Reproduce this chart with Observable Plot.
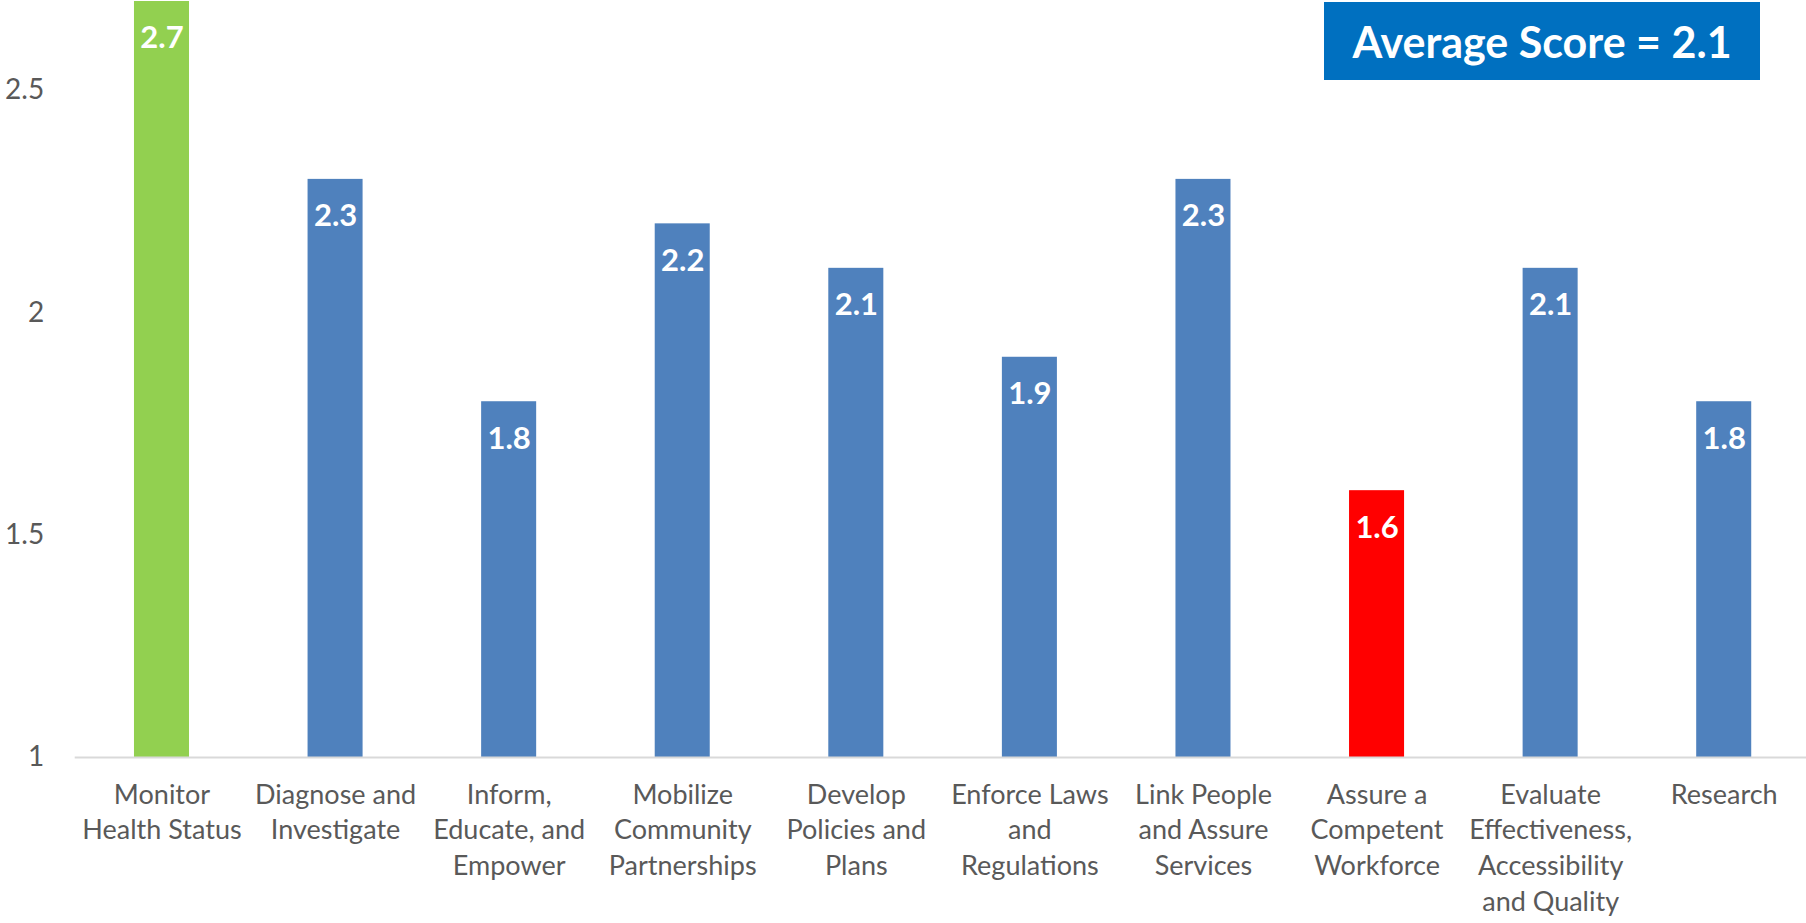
<!DOCTYPE html>
<html>
<head>
<meta charset="utf-8">
<script src="https://cdn.jsdelivr.net/npm/d3@7"></script>
<script src="https://cdn.jsdelivr.net/npm/@observablehq/plot@0.6"></script>
<style>
  html, body { margin: 0; padding: 0; background: #fff; overflow: hidden; }
  #wrap { position: relative; width: 1806px; height: 923px; }
  #badge {
    position: absolute; left: 1324px; top: 2px; width: 436px; height: 78px;
    background: #0070C0; color: #fff; font-family: Lato, sans-serif; font-weight: bold;
    font-size: 43px; display: flex; align-items: center; justify-content: center;
  }
  svg { display: block; }
</style>
</head>
<body>
<div id="wrap"><div id="badge"></div></div>
<script>
const categories = [
  "Monitor\nHealth Status",
  "Diagnose and\nInvestigate",
  "Inform,\nEducate, and\nEmpower",
  "Mobilize\nCommunity\nPartnerships",
  "Develop\nPolicies and\nPlans",
  "Enforce Laws\nand\nRegulations",
  "Link People\nand Assure\nServices",
  "Assure a\nCompetent\nWorkforce",
  "Evaluate\nEffectiveness,\nAccessibility\nand Quality",
  "Research"
];
const scores = [2.7, 2.3, 1.8, 2.2, 2.1, 1.9, 2.3, 1.6, 2.1, 1.8];
const yTicks = [1, 1.5, 2, 2.5];

const data = categories.map((c, i) => ({cat: c, value: scores[i]}));
const maxV = d3.max(scores), minV = d3.min(scores);
const fillFor = d => d.value === maxV ? "#92D050" : d.value === minV ? "#FF0000" : "#4F81BD";

document.getElementById("badge").textContent = "Average Score = " + d3.mean(scores).toFixed(1);

const chart = Plot.plot({
  width: 1806,
  height: 923,
  marginLeft: 74.7,
  marginRight: -4.5,
  marginTop: 1,
  marginBottom: 166,
  style: {fontFamily: "Lato, sans-serif", background: "transparent"},
  x: {domain: categories, paddingInner: 0.683, paddingOuter: 0.3415, round: false, label: null},
  y: {domain: [1, 2.7], label: null},
  marks: [
    Plot.barY(data, {x: "cat", y1: 1, y2: "value", fill: fillFor}),
    Plot.ruleY([1], {stroke: "#D9D9D9", strokeWidth: 2}),
    Plot.axisY({ticks: yTicks, tickSize: 0, tickPadding: 31, tickFormat: d => String(d),
      fontSize: 28, fill: "#595959", label: null}),
    Plot.axisX({tickSize: 0, tickPadding: 21, fontSize: 27, fill: "#595959",
      lineHeight: 1.32, label: null}),
    Plot.text(data, {x: "cat", y: "value", text: d => d.value.toFixed(1), dy: 37,
      fill: "white", fontWeight: "bold", fontSize: 31})
  ]
});
document.getElementById("wrap").prepend(chart);
</script>
</body>
</html>
